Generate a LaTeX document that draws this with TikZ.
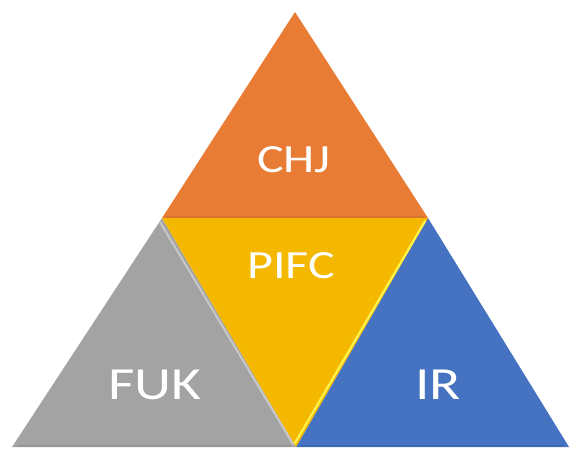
\documentclass[tikz,border=0pt]{standalone}
\usepackage{fontspec}
\usepackage{xcolor}
\usepackage{tikz}
\newfontfamily\lblfont[FakeStretch=1.25]{Carlito}

\definecolor{chjorange}{HTML}{E87C34}
\definecolor{pifcgold}{HTML}{F5B800}
\definecolor{fukgray}{HTML}{A3A3A3}
\definecolor{irblue}{HTML}{4672C2}

\tikzset{
  tri/.style={line join=round},
  bevel/.style={line width=2pt, line cap=round},
  lbl/.style={text=white, inner sep=0pt, anchor=center},
  biglbl/.style={lbl, font=\lblfont\fontsize{46}{50}\selectfont},
  midlbl/.style={lbl, font=\lblfont\fontsize{40}{44}\selectfont}
}

\begin{document}
\begin{tikzpicture}[x=1pt, y=-1pt]
  \useasboundingbox (0,0) rectangle (571,450);
  %% corner points
  \coordinate (top) at (295,12);
  \coordinate (ml)  at (162,218);
  \coordinate (mr)  at (428,218);
  \coordinate (bl)  at (12,447);
  \coordinate (bm)  at (296,447);
  \coordinate (br)  at (569,447);

  %% the four triangles
  \fill[tri, chjorange] (top) -- (mr) -- (ml) -- cycle;
  \fill[tri, fukgray]   (ml) -- (bm) -- (bl) -- cycle;
  \fill[tri, irblue]    (mr) -- (br) -- (bm) -- cycle;
  \fill[tri, pifcgold]  (ml) -- (mr) -- (bm) -- cycle;

  %% soft bevel edges (yshift is up on the page)
  \draw[bevel, chjorange!80!black, opacity=0.35] ([xshift=4pt,yshift=1.5pt]ml) -- ([xshift=-4pt,yshift=1.5pt]mr);
  \draw[bevel, yellow!70!white] ([xshift=-3pt,yshift=-3pt]mr) -- ([xshift=-1pt,yshift=4pt]bm);
  \draw[bevel, fukgray!60!white] ([xshift=-2pt,yshift=-4pt]ml) -- ([xshift=-3pt,yshift=3pt]bm);
  \draw[bevel, fukgray!80!black, opacity=0.4] ([xshift=6pt,yshift=1.5pt]bl) -- ([xshift=-6pt,yshift=1.5pt]bm);
  \draw[bevel, irblue!80!black, opacity=0.4] ([xshift=6pt,yshift=1.5pt]bm) -- ([xshift=-6pt,yshift=1.5pt]br);

  %% labels
  \node[midlbl] (chj)  at (294,160) {CHJ};
  \node[midlbl] (pifc) at (291,266) {PIFC};
  \node[biglbl] (fuk)  at (155,385) {FUK};
  \node[biglbl] (ir)   at (438,385) {IR};
\end{tikzpicture}
\end{document}
